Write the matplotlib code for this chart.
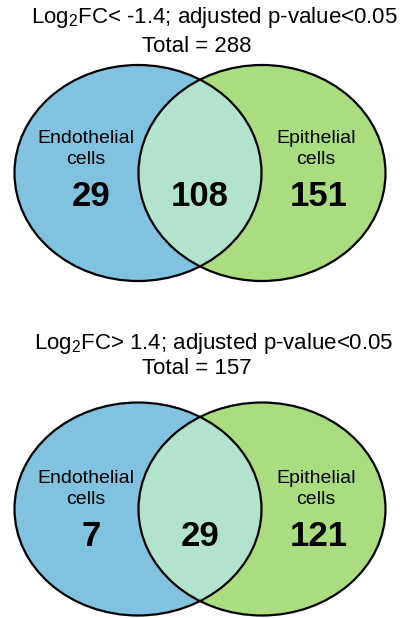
import matplotlib
matplotlib.use('Agg')
import matplotlib.pyplot as plt
from matplotlib.patches import Ellipse

plt.rcParams['font.family'] = 'Liberation Sans'
plt.rcParams['mathtext.fontset'] = 'custom'
plt.rcParams['mathtext.rm'] = 'Liberation Sans'

# data
titles = [r'Log$_{\mathrm{2}}$FC< -1.4; adjusted p-value<0.05',
          r'Log$_{\mathrm{2}}$FC> 1.4; adjusted p-value<0.05']
totals = [288, 157]
set_names = ['Endothelial\ncells', 'Epithelial\ncells']
only_left = [29, 7]
shared = [108, 29]
only_right = [151, 121]

blue = '#80c2e0'
green = '#a9dd7f'
mid = '#b2e3cc'

fig = plt.figure(figsize=(4.04, 6.18), dpi=100)
ax = fig.add_axes([0, 0, 1, 1])
ax.set_xlim(0, 404)
ax.set_ylim(618, 0)
ax.axis('off')

# layout (pixel coords) for each panel
title_y = [18, 343]
total_y = [47, 368]
cy = [173, 509]
h = [216, 213]
label_y = [149, 489]
num_y = [197, 537]
lx, rx, w = 138, 262, 247

for i in range(2):
    left = Ellipse((lx, cy[i]), w, h[i], facecolor=blue, edgecolor='none')
    right = Ellipse((rx, cy[i]), w, h[i], facecolor=green, edgecolor='none')
    ax.add_patch(left)
    ax.add_patch(right)
    inter = Ellipse((rx, cy[i]), w, h[i], facecolor=mid, edgecolor='none')
    ax.add_patch(inter)
    inter.set_clip_path(left)
    for c in (lx, rx):
        ax.add_patch(Ellipse((c, cy[i]), w, h[i], facecolor='none',
                             edgecolor='black', linewidth=1.6))

    ax.text(214, title_y[i], titles[i], ha='center', va='center', fontsize=16)
    ax.text(197, total_y[i], 'Total = %d' % totals[i], ha='center', va='center', fontsize=16)

    ax.text(86, label_y[i], set_names[0], ha='center', va='center',
            fontsize=14, linespacing=1.3)
    ax.text(316, label_y[i], set_names[1], ha='center', va='center',
            fontsize=14, linespacing=1.3)

    ax.text(91, num_y[i], str(only_left[i]), ha='center', va='center',
            fontsize=25, fontweight='bold')
    ax.text(200, num_y[i], str(shared[i]), ha='center', va='center',
            fontsize=25, fontweight='bold')
    ax.text(319, num_y[i], str(only_right[i]), ha='center', va='center',
            fontsize=25, fontweight='bold')

fig.savefig('out.png', dpi=100)
